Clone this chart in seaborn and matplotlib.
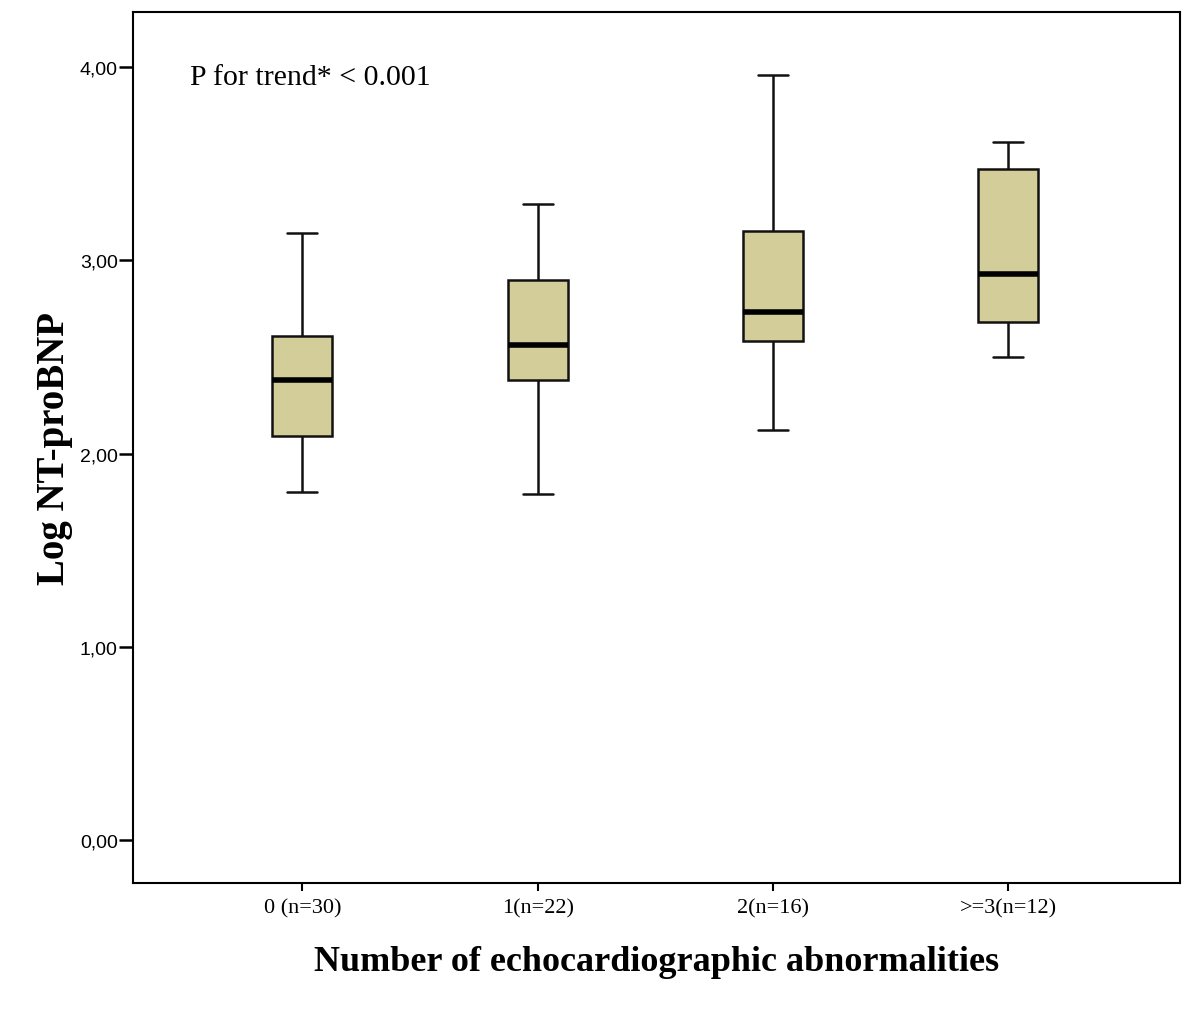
import numpy as np
import pandas as pd
import seaborn as sns
import matplotlib.pyplot as plt

groups = ["0 (n=30)", "1(n=22)", "2(n=16)", ">=3(n=12)"]
# five-number summaries (whiskers = min/max)
low = [1.80, 1.79, 2.12, 2.50]
q1 = [2.09, 2.38, 2.58, 2.68]
med = [2.38, 2.56, 2.73, 2.93]
q3 = [2.61, 2.90, 3.15, 3.47]
high = [3.14, 3.29, 3.96, 3.61]

rows = []
for i, g in enumerate(groups):
    for v in (low[i], q1[i], med[i], q3[i], high[i]):
        rows.append((g, v))
df = pd.DataFrame(rows, columns=["group", "value"])

sns.set_style("white")
plt.rcParams['font.family'] = ['Liberation Serif', 'DejaVu Serif']
plt.rcParams['text.color'] = 'black'
plt.rcParams['axes.labelcolor'] = 'black'
plt.rcParams['xtick.color'] = 'black'
plt.rcParams['ytick.color'] = 'black'

fig = plt.figure(figsize=(12, 10.12), dpi=100)
ax = fig.add_axes([0.1108, 0.1265, 0.8725, 0.8607])

sns.boxplot(
    data=df, x="group", y="value", order=groups,
    whis=(0, 100), width=0.255, color="#D3CE99", saturation=1,
    linecolor="#111111", linewidth=1.8,
    medianprops={"linewidth": 4, "color": "black"},
    ax=ax,
)

ax.set_xlim(-0.72, 3.73)
ax.set_ylim(-0.222, 4.285)
ax.set_yticks([0, 1, 2, 3, 4])
ax.set_yticklabels([f"{v:.2f}".replace(".", ",") for v in [0, 1, 2, 3, 4]],
                   family="Liberation Sans", fontsize=14)
ax.tick_params(axis="x", labelsize=16, length=6, width=1.5, direction="out",
               bottom=True, pad=5)
ax.tick_params(axis="y", length=10, width=1.8, direction="out", left=True, pad=1)

for s in ax.spines.values():
    s.set_visible(True)
    s.set_color("black")
    s.set_linewidth(1.5)

ax.set_xlabel("Number of echocardiographic abnormalities", fontsize=26,
              fontweight="bold", labelpad=20)
ax.set_ylabel("Log NT-proBNP", fontsize=28, fontweight="bold")
ax.yaxis.set_label_coords(-0.057, 0.5)

ax.text(0.0544, 0.925, "P for trend* < 0.001", transform=ax.transAxes,
        fontsize=21.5, va="center", ha="left")

fig.savefig("out.png", dpi=100)
